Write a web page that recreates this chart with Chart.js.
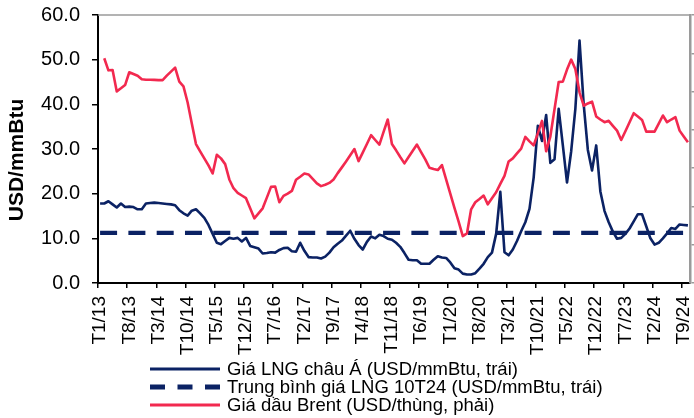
<!DOCTYPE html>
<html>
<head>
<meta charset="utf-8">
<script src="https://cdn.jsdelivr.net/npm/chart.js@4/dist/chart.umd.min.js"></script>
<style>
  html, body { margin: 0; padding: 0; background: #ffffff; }
  canvas { display: block; }
</style>
</head>
<body>
<canvas id="chart" width="694" height="418"></canvas>
<script>
const FONT = "'Liberation Sans', Arial, Helvetica, sans-serif";

// Monthly categories, T1/13 .. T10/24
const startYear = 2013;
const monthCount = 142;
const months = [];
for (let k = 0; k < monthCount; k++) {
  const m = (k % 12) + 1;
  const yy = String((startYear + Math.floor(k / 12)) % 100).padStart(2, '0');
  months.push('T' + m + '/' + yy);
}
const labelEvery = 7;

// Asian LNG price, USD/mmBtu (left axis)
const lngAsia = [
  17.8, 17.8, 18.3, 17.6, 16.9, 17.8, 17.0, 17.1, 17.0, 16.5, 16.5, 17.8,
  17.9, 18.0, 17.9, 17.8, 17.7, 17.6, 17.4, 16.3, 15.6, 15.1, 16.2, 16.5,
  15.6, 14.6, 13.0, 11.0, 9.0, 8.7, 9.4, 10.1, 9.9, 10.1, 9.3, 10.1,
  8.3, 8.0, 7.7, 6.6, 6.7, 6.9, 6.8, 7.4, 7.8, 7.9, 7.1, 7.0,
  9.0, 7.2, 5.8, 5.7, 5.7, 5.5, 5.9, 6.8, 8.0, 8.8, 9.5, 10.6,
  11.7, 9.9, 8.5, 7.5, 9.2, 10.4, 10.0, 10.8, 10.5, 9.9, 9.7, 9.0,
  8.1, 6.7, 5.2, 5.1, 5.1, 4.3, 4.3, 4.3, 5.2, 6.0, 5.7, 5.6,
  4.6, 3.3, 3.0, 2.1, 1.9, 1.9, 2.2, 3.2, 4.3, 5.8, 6.8, 11.0,
  20.4, 6.9, 6.2, 7.5, 9.4, 11.6, 13.6, 16.6, 23.6, 35.2, 31.8, 37.6,
  26.9, 27.7, 39.0, 30.8, 22.5, 29.5, 39.0, 54.3, 40.0, 29.8, 25.2, 30.8,
  20.5, 16.1, 13.6, 11.5, 9.9, 10.1, 11.0, 12.2, 13.8, 15.4, 15.4, 12.7,
  10.0, 8.6, 9.0, 10.0, 11.1, 12.3, 12.1, 13.1, 13.0, 12.9
];

// Average LNG price over the first 10 months of 2024, USD/mmBtu
const lngAvg10T24 = 11.2;

// Brent oil price, USD/barrel (right axis)
const brent = [
  null, 117.4, 111.1, 111.3, 100.1, 101.7, 103.4, 110.1, 109.2, 108.3, 106.4, 106.2,
  106.2, 106.1, 106.0, 106.0, 108.3, 110.4, 112.5, 105.2, 102.7, 94.3, 83.3, 72.6,
  68.8, 65.1, 61.4, 57.2, 67.0, 65.1, 62.1, 54.1, 49.5, 47.1, 45.7, 44.3,
  39.0, 33.8, 36.4, 39.0, 44.6, 50.2, 50.4, 42.2, 45.5, 46.7, 48.1, 53.9,
  55.5, 57.2, 56.7, 54.4, 52.0, 50.6, 51.3, 52.3, 54.1, 57.4, 60.4, 63.5,
  66.7, 70.0, 63.7, 68.1, 72.6, 77.2, 74.7, 72.3, 78.9, 85.4, 72.6, 69.3,
  65.8, 62.5, 65.8, 69.1, 72.3, 68.4, 64.6, 60.2, 59.5, 59.0, 61.6, 54.1,
  46.7, 39.2, 32.0, 24.5, 25.9, 38.5, 42.2, 43.9, 45.7, 41.1, 44.3, 47.4,
  51.8, 56.0, 63.5, 65.1, 67.7, 70.2, 76.3, 74.0, 71.9, 78.2, 84.7, 68.8,
  76.5, 90.8, 105.0, 105.2, 111.5, 116.7, 111.8, 99.6, 92.6, 93.8, 94.7, 87.0,
  85.4, 84.0, 84.7, 82.1, 79.6, 74.7, 79.3, 84.0, 88.7, 87.0, 85.2, 79.1,
  79.1, 79.1, 83.3, 87.5, 84.0, 85.4, 86.6, 79.6, 76.5, 73.5
];

const NAVY = '#0b2264';
const RED = '#f2294f';
const AXIS_GREY = '#9a9a9a';

// Frame line on top of the plot, axis title and the stacked legend below the chart
const decorations = {
  id: 'decorations',
  beforeDatasetsDraw(chart) {
    const { ctx, chartArea } = chart;
    ctx.save();
    ctx.strokeStyle = AXIS_GREY;
    ctx.lineWidth = 1.5;
    ctx.beginPath();
    ctx.moveTo(chartArea.left, chartArea.top);
    ctx.lineTo(chartArea.right, chartArea.top);
    ctx.stroke();
    ctx.restore();
  },
  afterDraw(chart) {
    const { ctx } = chart;
    ctx.save();
    // y-axis title
    ctx.translate(17.5, 160);
    ctx.rotate(-Math.PI / 2);
    ctx.font = 'bold 21px ' + FONT;
    ctx.fillStyle = '#000';
    ctx.textAlign = 'center';
    ctx.textBaseline = 'middle';
    ctx.fillText('USD/mmBtu', 0, 0);
    ctx.restore();

    // legend
    const x0 = 150, x1 = 220, tx = 227;
    const rows = [369, 387, 405];
    ctx.save();
    ctx.font = '18.5px ' + FONT;
    ctx.fillStyle = '#000';
    ctx.textBaseline = 'middle';
    ctx.textAlign = 'left';
    chart.data.datasets.forEach((ds, i) => {
      const y = rows[i];
      ctx.beginPath();
      ctx.strokeStyle = ds.borderColor;
      ctx.lineWidth = ds.legendWidth || ds.borderWidth;
      ctx.setLineDash(ds.legendDash || []);
      ctx.moveTo(x0, y);
      ctx.lineTo(x1, y);
      ctx.stroke();
      ctx.setLineDash([]);
      ctx.fillText(ds.label, tx, y + 1);
    });
    ctx.restore();
  }
};

new Chart(document.getElementById('chart'), {
  type: 'line',
  data: {
    labels: months,
    datasets: [
      {
        label: 'Giá LNG châu Á (USD/mmBtu, trái)',
        data: lngAsia,
        yAxisID: 'y',
        borderColor: NAVY,
        borderWidth: 2.6,
        legendWidth: 3,
        order: 2
      },
      {
        label: 'Trung bình giá LNG 10T24 (USD/mmBtu, trái)',
        data: months.map(() => lngAvg10T24),
        yAxisID: 'y',
        borderColor: NAVY,
        borderWidth: 4.2,
        borderDash: [17, 11.3],
        borderCapStyle: 'butt',
        legendWidth: 5,
        legendDash: [15, 12.5],
        order: 1
      },
      {
        label: 'Giá dầu Brent (USD/thùng, phải)',
        data: brent,
        yAxisID: 'y2',
        borderColor: RED,
        borderWidth: 2.6,
        legendWidth: 3,
        order: 0
      }
    ]
  },
  options: {
    responsive: false,
    devicePixelRatio: 1,
    animation: false,
    events: [],
    layout: { padding: { top: 15, right: 0, bottom: 55, left: 0 } },
    elements: {
      point: { radius: 0 },
      line: { tension: 0, borderJoinStyle: 'round', fill: false }
    },
    plugins: {
      legend: { display: false },
      tooltip: { enabled: false },
      title: { display: false }
    },
    scales: {
      x: {
        type: 'category',
        offset: true,
        afterFit: (s) => { s.height = 80; s.paddingLeft = 0; s.paddingRight = 0; },
        border: { color: '#000', width: 2 },
        grid: {
          offset: true,
          drawOnChartArea: false,
          drawTicks: true,
          tickLength: 5,
          lineWidth: 1.5,
          color: (c) => (c.index % labelEvery === 0 ? '#000' : 'rgba(0,0,0,0)')
        },
        ticks: {
          autoSkip: false,
          maxRotation: 90,
          minRotation: 90,
          padding: 8,
          color: '#000',
          font: { family: FONT, size: 19 },
          callback: (v, i) => (i % labelEvery === 0 ? months[i] : '')
        }
      },
      y: {
        position: 'left',
        min: 0,
        max: 60,
        afterFit: (s) => { s.width = 98; s.paddingTop = 0; s.paddingBottom = 0; },
        border: { color: '#000', width: 2 },
        grid: {
          drawOnChartArea: false,
          drawTicks: true,
          tickLength: 6,
          lineWidth: 1.5,
          color: '#000'
        },
        ticks: {
          stepSize: 10,
          padding: 12,
          color: '#000',
          font: { family: FONT, size: 20 },
          callback: (v) => Number(v).toFixed(1)
        }
      },
      y2: {
        position: 'right',
        min: 0,
        max: 140,
        afterFit: (s) => { s.width = 4; s.paddingTop = 0; s.paddingBottom = 0; },
        border: { color: AXIS_GREY, width: 2.5 },
        grid: {
          drawOnChartArea: false,
          drawTicks: true,
          tickLength: 4,
          lineWidth: 1.5,
          color: AXIS_GREY
        },
        ticks: { stepSize: 20, display: false }
      }
    }
  },
  plugins: [decorations]
});
</script>
</body>
</html>
